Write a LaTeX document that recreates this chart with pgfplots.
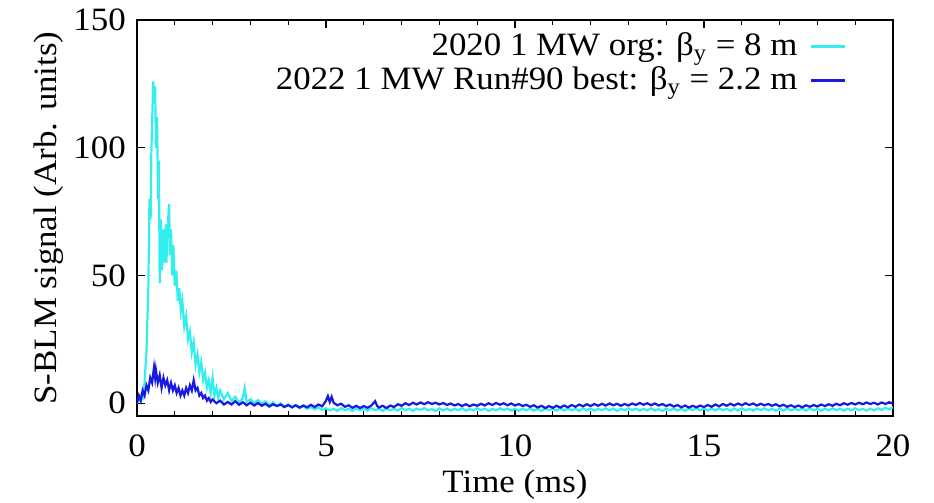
\documentclass[border=0pt]{standalone}
\usepackage{fontspec}
\setmainfont{Liberation Serif}[FakeStretch=1.07]
\usepackage{pgfplots}
\pgfplotsset{compat=1.18}
\definecolor{cy}{RGB}{50,238,238}
\definecolor{bl}{RGB}{25,25,225}
\begin{document}
\fontsize{16.3}{19}\selectfont
\begin{tikzpicture}
\useasboundingbox (-68.5pt,-43.5pt) rectangle (398.5pt,208pt);
\begin{axis}[
  scale only axis, width=378pt, height=198pt,
  xmin=0, xmax=20, ymin=-5, ymax=150,
  xtick={0,5,...,20}, ytick={0,50,100,150},
  minor x tick num=4,
  /pgf/number format/assume math mode=true,
  tick style={black, line width=0.6pt},
  major tick length=4pt, minor tick length=2.5pt,
  axis line style={line width=0.9pt},
  xlabel={Time (ms)}, ylabel={S-BLM signal (Arb. units)},
  xticklabel style={yshift=-4pt},
  xlabel style={yshift=5pt},
  ylabel style={yshift=-6pt},
  legend style={draw=none, fill=none, at={(1,1)}, anchor=north east, xshift=-20pt, yshift=-3pt,
    nodes={inner sep=1pt}, row sep=1pt},
  legend cell align=right, legend plot pos=right,
  legend image post style={line width=1.5pt},
]
\addplot[cy, line width=1.1pt] coordinates {
(0.00,0) (0.05,1) (0.10,3) (0.15,2) (0.20,8) (0.25,20) (0.30,45) (0.33,80) (0.36,72) (0.38,98) (0.40,110) (0.43,126) (0.46,118) (0.48,124) (0.50,100) (0.53,112) (0.56,80) (0.58,95) (0.60,47) (0.63,72) (0.66,52) (0.70,68) (0.73,55) (0.76,70) (0.78,55) (0.80,66) (0.85,78) (0.87,58) (0.90,68) (0.93,50) (0.96,62) (1.00,46) (1.04,52) (1.08,40) (1.12,45) (1.16,36) (1.20,40) (1.25,30) (1.30,34) (1.35,25) (1.40,28) (1.45,20) (1.50,24) (1.55,15) (1.60,19) (1.65,12) (1.70,16) (1.75,9) (1.80,12) (1.85,6) (1.90,9) (1.95,4) (2.00,10) (2.05,3) (2.10,6) (2.15,2) (2.20,5) (2.30,1.5) (2.40,4) (2.50,0.8) (2.60,2.5) (2.70,0.2) (2.80,2) (2.85,6) (2.90,0.5)
(3.0,1.5) (3.1,0.0) (3.2,1.2) (3.3,-0.3) (3.4,0.8) (3.5,-0.8) (3.6,0.4) (3.7,-1.1) (3.8,0.0) (3.9,-1.4) (4.0,-0.5) (4.1,-1.6) (4.2,-0.9) (4.3,-1.9) (4.4,-1.2) (4.5,-2.2) (4.6,-1.5) (4.7,-2.4) (4.8,-1.7) (4.9,-2.6)
(5.0,-2.0) (5.1,-2.8) (5.2,-2.2) (5.3,-3.0) (5.4,-1.9) (5.5,-2.7) (5.6,-2.2) (5.7,-3.0) (5.8,-2.0) (5.9,-2.8)
(6.0,-2.1) (6.1,-2.9) (6.2,-2.0) (6.3,-2.7) (6.4,-2.2) (6.5,-3.0) (6.6,-2.0) (6.7,-2.8) (6.8,-2.2) (6.9,-2.9)
(7.0,-1.9) (7.1,-2.7) (7.2,-2.2) (7.3,-3.0) (7.4,-2.1) (7.5,-2.6) (7.6,-1.9) (7.7,-2.8) (7.8,-2.3) (7.9,-3.0)
(8.0,-2.0) (8.1,-2.8) (8.2,-2.1) (8.3,-2.9) (8.4,-2.2) (8.5,-2.7) (8.6,-2.0) (8.7,-2.9) (8.8,-2.3) (8.9,-2.8)
(9.0,-2.0) (9.1,-2.7) (9.2,-2.1) (9.3,-3.0) (9.4,-2.2) (9.5,-2.8) (9.6,-2.0) (9.7,-2.6) (9.8,-2.1) (9.9,-2.9)
(10.0,-2.2) (10.1,-3.0) (10.2,-2.1) (10.3,-2.8) (10.4,-2.0) (10.5,-2.9) (10.6,-2.3) (10.7,-3.0) (10.8,-2.1) (10.9,-2.7)
(11.0,-2.2) (11.1,-2.9) (11.2,-2.0) (11.3,-2.8) (11.4,-2.1) (11.5,-2.7) (11.6,-2.2) (11.7,-3.0) (11.8,-2.0) (11.9,-2.8)
(12.0,-2.1) (12.1,-2.9) (12.2,-2.2) (12.3,-2.7) (12.4,-2.0) (12.5,-2.8) (12.6,-2.1) (12.7,-3.0) (12.8,-2.2) (12.9,-2.8)
(13.0,-2.0) (13.1,-2.7) (13.2,-2.1) (13.3,-2.9) (13.4,-2.2) (13.5,-2.8) (13.6,-2.0) (13.7,-2.9) (13.8,-2.3) (13.9,-3.0)
(14.0,-2.1) (14.1,-2.8) (14.2,-2.0) (14.3,-2.9) (14.4,-2.2) (14.5,-3.0) (14.6,-2.1) (14.7,-2.7) (14.8,-2.0) (14.9,-2.8)
(15.0,-2.2) (15.1,-2.9) (15.2,-2.1) (15.3,-2.8) (15.4,-2.0) (15.5,-2.7) (15.6,-2.2) (15.7,-3.0) (15.8,-2.1) (15.9,-2.9)
(16.0,-2.0) (16.1,-2.8) (16.2,-2.2) (16.3,-2.9) (16.4,-2.1) (16.5,-2.7) (16.6,-2.0) (16.7,-2.8) (16.8,-2.2) (16.9,-3.0)
(17.0,-2.1) (17.1,-2.9) (17.2,-2.0) (17.3,-2.8) (17.4,-2.2) (17.5,-2.7) (17.6,-2.1) (17.7,-2.9) (17.8,-2.0) (17.9,-2.8)
(18.0,-2.2) (18.1,-3.0) (18.2,-2.1) (18.3,-2.8) (18.4,-2.0) (18.5,-2.7) (18.6,-2.2) (18.7,-2.9) (18.8,-2.1) (18.9,-2.8)
(19.0,-2.0) (19.1,-2.7) (19.2,-2.2) (19.3,-2.9) (19.4,-2.1) (19.5,-2.8) (19.6,-2.0) (19.7,-2.6) (19.8,-1.8) (19.9,-2.5) (20.0,-1.5)
};
\addlegendentry{2020 1 MW org: β\textsubscript{y} = 8 m\kern5pt}
\addplot[bl, line width=1.1pt] coordinates {
(0.00,0) (0.05,3) (0.10,1) (0.15,5) (0.20,3) (0.25,7) (0.30,5) (0.35,10) (0.40,8) (0.45,14) (0.48,10) (0.50,13) (0.55,8) (0.60,11) (0.65,6) (0.70,10) (0.75,7) (0.80,9) (0.85,5) (0.90,8) (0.95,5) (1.00,7) (1.05,4) (1.10,6) (1.15,3) (1.20,5) (1.25,3) (1.30,6) (1.35,4) (1.40,7) (1.45,5) (1.50,9) (1.55,5) (1.60,6) (1.65,3) (1.70,4) (1.75,2) (1.80,3) (1.85,1) (1.90,2) (1.95,0.5) (2.00,1.5) (2.1,0) (2.2,1) (2.3,-0.5) (2.4,0.5) (2.5,-0.5) (2.6,0.8) (2.7,-0.6) (2.8,0.4) (2.9,-0.8)
(3.0,0.2) (3.1,-0.9) (3.2,0.1) (3.3,-1.0) (3.4,-0.2) (3.5,-1.3) (3.6,-0.4) (3.7,-1.1) (3.8,-0.5) (3.9,-1.5)
(4.0,-0.7) (4.1,-1.6) (4.2,-0.8) (4.3,-1.7) (4.4,-0.9) (4.5,-1.6) (4.6,-0.6) (4.7,-1.5) (4.8,-0.5) (4.9,-1.2)
(5.0,1.0) (5.05,2.8) (5.1,0.5) (5.15,2.5) (5.2,0.2) (5.3,-0.8) (5.4,-0.2) (5.5,-1.4) (5.6,-0.8) (5.7,-1.8) (5.8,-1.0) (5.9,-1.9)
(6.0,-1.1) (6.1,-1.8) (6.2,-0.9) (6.3,0.8) (6.35,-1.0) (6.4,-1.7) (6.5,-1.0) (6.6,-1.9) (6.7,-0.9) (6.8,-1.5) (6.9,-0.4)
(7.0,-1.0) (7.1,0.0) (7.2,-0.7) (7.3,0.2) (7.4,-0.5) (7.5,0.3) (7.6,-0.4) (7.7,0.4) (7.8,-0.3) (7.9,0.2)
(8.0,-0.5) (8.1,0.1) (8.2,-0.7) (8.3,-0.1) (8.4,-0.9) (8.5,-0.3) (8.6,-1.1) (8.7,-0.4) (8.8,-1.2) (8.9,-0.5)
(9.0,-1.0) (9.1,-0.2) (9.2,-0.9) (9.3,0.0) (9.4,-0.7) (9.5,0.1) (9.6,-0.6) (9.7,0.0) (9.8,-0.8) (9.9,-0.1)
(10.0,-0.9) (10.1,-0.3) (10.2,-1.1) (10.3,-0.6) (10.4,-1.4) (10.5,-0.8) (10.6,-1.7) (10.7,-1.0) (10.8,-1.9) (10.9,-1.1)
(11.0,-1.8) (11.1,-1.0) (11.2,-1.7) (11.3,-0.9) (11.4,-1.6) (11.5,-0.7) (11.6,-1.4) (11.7,-0.5) (11.8,-1.2) (11.9,-0.4)
(12.0,-1.1) (12.1,-0.3) (12.2,-1.0) (12.3,-0.2) (12.4,-0.9) (12.5,-0.1) (12.6,-0.8) (12.7,-0.2) (12.8,-1.0) (12.9,-0.3)
(13.0,-0.9) (13.1,-0.1) (13.2,-0.7) (13.3,0.1) (13.4,-0.6) (13.5,0.0) (13.6,-0.8) (13.7,-0.1) (13.8,-0.9) (13.9,-0.3)
(14.0,-1.1) (14.1,-0.5) (14.2,-1.3) (14.3,-0.7) (14.4,-1.6) (14.5,-0.9) (14.6,-1.7) (14.7,-1.0) (14.8,-1.6) (14.9,-0.9)
(15.0,-1.5) (15.1,-0.7) (15.2,-1.4) (15.3,-0.5) (15.4,-1.2) (15.5,-0.3) (15.6,-1.0) (15.7,-0.2) (15.8,-0.9) (15.9,-0.1)
(16.0,-0.8) (16.1,0.0) (16.2,-0.7) (16.3,-0.1) (16.4,-0.9) (16.5,-0.2) (16.6,-0.8) (16.7,-0.3) (16.8,-1.0) (16.9,-0.4)
(17.0,-1.2) (17.1,-0.6) (17.2,-1.4) (17.3,-0.8) (17.4,-1.5) (17.5,-0.9) (17.6,-1.6) (17.7,-0.8) (17.8,-1.4) (17.9,-0.7)
(18.0,-1.3) (18.1,-0.5) (18.2,-1.1) (18.3,-0.4) (18.4,-1.0) (18.5,-0.2) (18.6,-0.8) (18.7,0.0) (18.8,-0.6) (18.9,0.1)
(19.0,-0.5) (19.1,0.2) (19.2,-0.4) (19.3,0.3) (19.4,-0.3) (19.5,0.2) (19.6,-0.5) (19.7,0.3) (19.8,-0.3) (19.9,0.4) (20.0,-0.2)
};
\addlegendentry{2022 1 MW Run\#90 best: β\textsubscript{y} = 2.2 m\kern5pt}
\end{axis}
\end{tikzpicture}
\end{document}
